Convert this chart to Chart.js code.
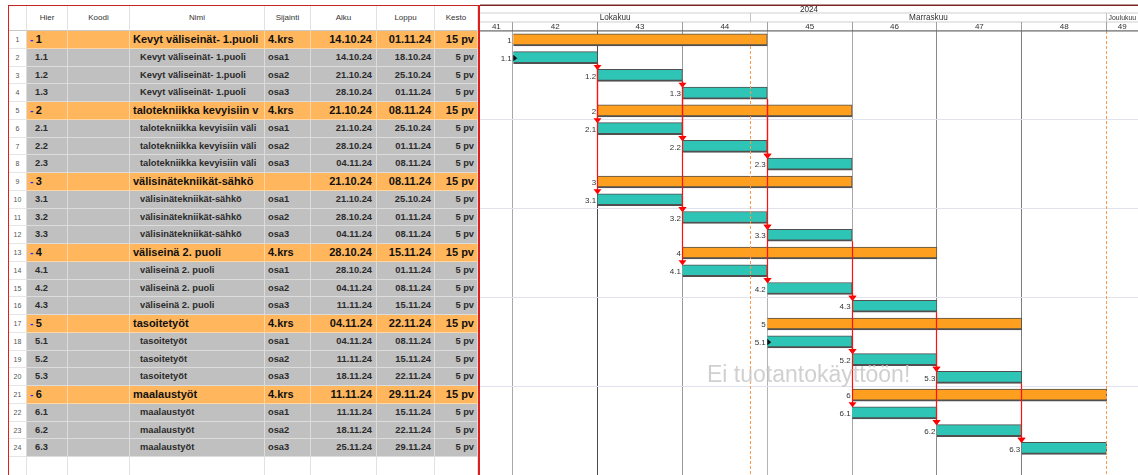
<!DOCTYPE html>
<html>
<head>
<meta charset="utf-8">
<script src="https://cdn.jsdelivr.net/npm/chart.js@4.4.1/dist/chart.umd.min.js"></script>
<style>
html, body { margin: 0; padding: 0; background: #fff; overflow: hidden; }
body { width: 1138px; height: 475px; position: relative; font-family: "Liberation Sans", Arial, sans-serif; }
#table { position: absolute; left: 0; top: 0; width: 480px; height: 475px; }
.c { position: absolute; box-sizing: border-box; overflow: hidden; white-space: nowrap; }
#frame { position: absolute; left: 8px; top: 4.5px; width: 472px; height: 480px; box-sizing: border-box;
  border-left: 1.5px solid #e01e1e; border-right: 2px solid #e01e1e; border-top: 1.5px solid #c42222; pointer-events: none; z-index: 2; }
#gantt { position: absolute; left: 480px; top: 0; }
</style>
</head>
<body>
<div id="table"></div>
<div id="frame"></div>
<canvas id="gantt" width="658" height="475"></canvas>
<script>
// --- data ---
const headers = ['', 'Hier', 'Koodi', 'Nimi', 'Sijainti', 'Alku', 'Loppu', 'Kesto'];
const hier = ['1', '1.1', '1.2', '1.3', '2', '2.1', '2.2', '2.3', '3', '3.1', '3.2', '3.3',
  '4', '4.1', '4.2', '4.3', '5', '5.1', '5.2', '5.3', '6', '6.1', '6.2', '6.3'];
const nimi = [
  'Kevyt väliseinät- 1.puoli', 'Kevyt väliseinät- 1.puoli', 'Kevyt väliseinät- 1.puoli', 'Kevyt väliseinät- 1.puoli',
  'talotekniikka kevyisiin v', 'talotekniikka kevyisiin väli', 'talotekniikka kevyisiin väli', 'talotekniikka kevyisiin väli',
  'välisinätekniikät-sähkö', 'välisinätekniikät-sähkö', 'välisinätekniikät-sähkö', 'välisinätekniikät-sähkö',
  'väliseinä 2. puoli', 'väliseinä 2. puoli', 'väliseinä 2. puoli', 'väliseinä 2. puoli',
  'tasoitetyöt', 'tasoitetyöt', 'tasoitetyöt', 'tasoitetyöt',
  'maalaustyöt', 'maalaustyöt', 'maalaustyöt', 'maalaustyöt'];
const sijainti = ['4.krs', 'osa1', 'osa2', 'osa3', '4.krs', 'osa1', 'osa2', 'osa3', '', 'osa1', 'osa2', 'osa3',
  '4.krs', 'osa1', 'osa2', 'osa3', '4.krs', 'osa1', 'osa2', 'osa3', '4.krs', 'osa1', 'osa2', 'osa3'];
const alku = ['14.10.24', '14.10.24', '21.10.24', '28.10.24', '21.10.24', '21.10.24', '28.10.24', '04.11.24',
  '21.10.24', '21.10.24', '28.10.24', '04.11.24', '28.10.24', '28.10.24', '04.11.24', '11.11.24',
  '04.11.24', '04.11.24', '11.11.24', '18.11.24', '11.11.24', '11.11.24', '18.11.24', '25.11.24'];
const loppu = ['01.11.24', '18.10.24', '25.10.24', '01.11.24', '08.11.24', '25.10.24', '01.11.24', '08.11.24',
  '08.11.24', '25.10.24', '01.11.24', '08.11.24', '15.11.24', '01.11.24', '08.11.24', '15.11.24',
  '22.11.24', '08.11.24', '15.11.24', '22.11.24', '29.11.24', '15.11.24', '22.11.24', '29.11.24'];
const kesto = ['15 pv', '5 pv', '5 pv', '5 pv', '15 pv', '5 pv', '5 pv', '5 pv', '15 pv', '5 pv', '5 pv', '5 pv',
  '15 pv', '5 pv', '5 pv', '5 pv', '15 pv', '5 pv', '5 pv', '5 pv', '15 pv', '5 pv', '5 pv', '5 pv'];
const deps = [
  ['1.1', '1.2'], ['1.2', '1.3'], ['1.1', '2.1'], ['1.2', '2.2'], ['1.3', '2.3'], ['2.1', '2.2'], ['2.2', '2.3'],
  ['1.1', '3.1'], ['1.2', '3.2'], ['1.3', '3.3'], ['3.1', '3.2'], ['3.2', '3.3'],
  ['3.1', '4.1'], ['3.2', '4.2'], ['3.3', '4.3'], ['4.1', '4.2'], ['4.2', '4.3'],
  ['4.2', '5.2'], ['4.3', '5.3'], ['5.1', '5.2'], ['5.2', '5.3'],
  ['5.1', '6.1'], ['5.2', '6.2'], ['5.3', '6.3'], ['6.1', '6.2'], ['6.2', '6.3']];
const yearLabel = '2024';
const months = ['Lokakuu', 'Marraskuu', 'Joulukuu'];
const monthStarts = ['01.10.24', '01.11.24', '01.12.24'];
const weeks = [41, 42, 43, 44, 45, 46, 47, 48, 49];
const markerDates = ['01.11.24', '02.12.24'];
const watermark = 'Ei tuotantokäyttöön!';

// working-day calendar, day 0 = monday of week 42
const BASE = new Date(2024, 9, 14);
const BASE_WEEK = 42;
function parseDate(s) {
  const [d, m, y] = s.split('.').map(Number);
  return new Date(2000 + y, m - 1, d);
}
function workday(s) {
  const t = parseDate(s);
  const d = new Date(BASE);
  let n = 0;
  if (t >= BASE) {
    while (d < t) { const w = d.getDay(); if (w !== 0 && w !== 6) n++; d.setDate(d.getDate() + 1); }
  } else {
    while (d > t) { d.setDate(d.getDate() - 1); const w = d.getDay(); if (w !== 0 && w !== 6) n--; }
  }
  return n;
}
const isSummary = h => h.indexOf('.') < 0;
const bars = hier.map((h, i) => [workday(alku[i]), workday(loppu[i]) + 1]);
const weekStart = w => (w - BASE_WEEK) * 5;

// --- table ---
const ROW_TOP = 31;
const ROW_H = 444 / 25;
const COLS = [
  {x: 9, w: 18}, {x: 27, w: 41}, {x: 68, w: 62}, {x: 130, w: 135},
  {x: 265, w: 46}, {x: 311, w: 66}, {x: 377, w: 58}, {x: 435, w: 43}];
const tbl = document.getElementById('table');

function cell(col, y, h, css) {
  const c = COLS[col];
  const d = document.createElement('div');
  d.className = 'c';
  d.style.cssText = `left:${c.x}px;top:${y}px;width:${c.w}px;height:${h}px;line-height:${h}px;` + css;
  tbl.append(d);
  return d;
}

headers.forEach((t, k) => {
  const d = cell(k, 5, 26, 'background:#fff;border-right:1px solid #e2e2e2;border-bottom:1px solid #c8c8c8;' +
    'text-align:center;font-size:8px;color:#333;');
  d.textContent = t;
});

for (let i = 0; i <= hier.length; i++) {
  const y = ROW_TOP + i * ROW_H;
  if (i === hier.length) {
    for (let k = 0; k < COLS.length; k++) cell(k, y, ROW_H, 'background:#fff;border-right:1px solid #e2e2e2;');
    break;
  }
  const sum = isSummary(hier[i]);
  const bg = sum ? '#ffb65c' : '#c0c0c0';
  const base = `background:${bg};border-right:1px solid rgba(255,255,255,0.45);border-bottom:1px solid rgba(255,255,255,0.45);` +
    (sum ? 'font-weight:bold;font-size:11px;color:#111;' : 'font-weight:bold;font-size:9.3px;color:#2b2b2b;');

  const num = cell(0, y, ROW_H, 'background:#fff;border-right:1px solid #dcdcdc;border-bottom:1px solid #e6e6e6;' +
    'text-align:center;font-size:7px;color:#555;');
  num.textContent = String(i + 1);

  const h = cell(1, y, ROW_H, base + 'padding-left:' + (sum ? 3 : 8) + 'px;');
  if (sum) {
    const minus = document.createElement('span');
    minus.textContent = '-';
    minus.style.cssText = 'color:#2233ee;display:inline-block;width:5.7px;font-size:10px;';
    h.append(minus, document.createTextNode(hier[i]));
  } else {
    h.textContent = hier[i];
  }
  cell(2, y, ROW_H, base);
  const n = cell(3, y, ROW_H, base + 'padding-left:' + (sum ? 3 : 10) + 'px;' + (sijainti[i] === '' ? 'overflow:visible;z-index:1;' : ''));
  n.textContent = nimi[i];
  cell(4, y, ROW_H, base + 'padding-left:3px;').textContent = sijainti[i];
  cell(5, y, ROW_H, base + 'text-align:right;padding-right:4px;').textContent = alku[i];
  cell(6, y, ROW_H, base + 'text-align:right;padding-right:3px;').textContent = loppu[i];
  cell(7, y, ROW_H, base + 'text-align:right;padding-right:3px;').textContent = kesto[i];
}

// --- gantt ---
const FONT = '"Liberation Sans", Arial, sans-serif';
const ORANGE = '#ff9f1f';
const TEAL = '#2ec4b6';
const weekTicks = weeks.filter(w => w >= BASE_WEEK).map(weekStart);
const weekLineColors = ['#a8a8a8', '#4c4c4c', '#9a9a9a', '#b4b4b4', '#a8a8a8', '#8a8a8a', '#7c7c7c', 'rgba(0,0,0,0)'];
// same pixel snapping as the library grid lines
const snap = v => Math.round(v - 0.5) + 0.5;

const ganttPlugin = {
  id: 'gantt',
  afterDatasetsDraw(chart) {
    const {ctx, chartArea: ca, scales: {x}} = chart;
    const meta = chart.getDatasetMeta(0);
    ctx.save();

    // orange dashed marker lines
    ctx.strokeStyle = '#ff9a4a';
    ctx.lineWidth = 1;
    ctx.setLineDash([3, 2]);
    markerDates.forEach(m => {
      const px = snap(x.getPixelForValue(workday(m)));
      ctx.beginPath(); ctx.moveTo(px, ca.top); ctx.lineTo(px, ca.bottom); ctx.stroke();
    });
    ctx.setLineDash([]);

    // dependency links
    deps.forEach(([a, b]) => {
      const ea = meta.data[hier.indexOf(a)];
      const eb = meta.data[hier.indexOf(b)];
      const px = snap(ea.x);
      const y1 = ea.y + ea.height / 2;
      const y2 = eb.y - eb.height / 2;
      ctx.strokeStyle = '#ff1010';
      ctx.lineWidth = 1.2;
      ctx.beginPath(); ctx.moveTo(px, y1); ctx.lineTo(px, y2); ctx.stroke();
      ctx.fillStyle = '#ff0000';
      ctx.beginPath();
      ctx.moveTo(px - 4, y2 - 4.5); ctx.lineTo(px + 4, y2 - 4.5); ctx.lineTo(px, y2 + 0.5);
      ctx.closePath(); ctx.fill();
    });

    // start markers for tasks without predecessor
    const targets = deps.map(d => d[1]);
    hier.forEach((h, i) => {
      if (isSummary(h) || targets.includes(h)) return;
      const el = meta.data[i];
      ctx.fillStyle = '#111';
      ctx.beginPath();
      ctx.moveTo(el.base, el.y - 3); ctx.lineTo(el.base + 4, el.y + 0.5); ctx.lineTo(el.base, el.y + 3.5);
      ctx.closePath(); ctx.fill();
    });

    // labels before bars
    ctx.font = '8px ' + FONT;
    ctx.fillStyle = '#333';
    ctx.textAlign = 'right';
    ctx.textBaseline = 'middle';
    hier.forEach((h, i) => {
      const el = meta.data[i];
      ctx.fillText(h, el.base - 1.5, el.y + 1);
    });

    // watermark
    ctx.font = '23px ' + FONT;
    ctx.fillStyle = 'rgba(200,200,200,0.85)';
    ctx.textAlign = 'left';
    ctx.textBaseline = 'alphabetic';
    ctx.fillText(watermark, ca.left + 227, ca.top + 351);
    ctx.restore();
  },
  afterDraw(chart) {
    const {ctx, chartArea: ca, scales: {x}} = chart;
    const W = chart.width;
    ctx.save();
    ctx.fillStyle = '#fff';
    ctx.fillRect(0, 0, W, ca.top);
    ctx.fillStyle = '#7d2626';
    ctx.fillRect(0, 4.5, W, 1.5);

    ctx.textAlign = 'center';
    ctx.textBaseline = 'middle';
    ctx.fillStyle = '#333';
    ctx.font = '8.2px ' + FONT;
    ctx.fillText(yearLabel, (ca.left + ca.right) / 2, 9.8);
    ctx.fillStyle = '#d0d0d0';
    ctx.fillRect(0, 12.5, W, 1);

    // months
    months.forEach((m, i) => {
      const a = Math.max(x.getPixelForValue(workday(monthStarts[i])), ca.left);
      const b = i + 1 < months.length ? Math.min(x.getPixelForValue(workday(monthStarts[i + 1])), ca.right) : ca.right;
      if (b <= a) return;
      if (a > ca.left) { ctx.fillStyle = '#c4c4c4'; ctx.fillRect(snap(a) - 0.5, 13, 1, 9); }
      let size = 8.2;
      ctx.font = size + 'px ' + FONT;
      const tw = ctx.measureText(m).width;
      if (tw > b - a - 4) { size = size * (b - a - 4) / tw; ctx.font = size + 'px ' + FONT; }
      ctx.fillStyle = '#333';
      ctx.fillText(m, (a + b) / 2, 18);
    });
    ctx.fillStyle = '#cfcfcf';
    ctx.fillRect(0, 21.5, W, 1);

    // weeks
    ctx.font = '8px ' + FONT;
    weeks.forEach(w => {
      const a = Math.max(x.getPixelForValue(weekStart(w)), ca.left);
      const b = Math.min(x.getPixelForValue(weekStart(w + 1)), ca.right);
      if (b <= a) return;
      if (a > ca.left) { ctx.fillStyle = '#a0a0a0'; ctx.fillRect(snap(a) - 0.5, 22, 1, 9); }
      ctx.fillStyle = '#333';
      ctx.fillText(String(w), (a + b) / 2, 27);
    });
    ctx.fillStyle = '#666';
    ctx.fillRect(0, 30.3, W, 1.2);
    ctx.restore();
  }
};

new Chart(document.getElementById('gantt'), {
  type: 'bar',
  data: {
    labels: [...hier, ''],
    datasets: [{
      data: [...bars, null],
      backgroundColor: hier.map(h => isSummary(h) ? ORANGE : TEAL),
      borderColor: '#505050',
      borderWidth: {top: 1, right: 1, bottom: 2, left: 0},
      borderSkipped: false,
      barThickness: 12
    }]
  },
  options: {
    indexAxis: 'y',
    responsive: false,
    animation: false,
    layout: {padding: {top: 31, left: 0, right: 0, bottom: 0}},
    plugins: {legend: {display: false}, tooltip: {enabled: false}},
    scales: {
      x: {
        type: 'linear',
        position: 'top',
        min: -1.93,
        max: 36.85,
        afterBuildTicks: s => { s.ticks = weekTicks.map(v => ({value: v})); },
        ticks: {display: false},
        grid: {drawTicks: false, color: c => weekLineColors[c.index] || 'rgba(0,0,0,0)', lineWidth: 1},
        border: {display: false}
      },
      y: {
        type: 'category',
        offset: true,
        ticks: {display: false},
        grid: {offset: true, drawTicks: false, color: c => (c.index > 0 && c.index % 5 === 0 && c.index < 25) ? '#e0e3ee' : 'rgba(0,0,0,0)'},
        border: {display: false}
      }
    }
  },
  plugins: [ganttPlugin]
});
</script>
</body>
</html>
